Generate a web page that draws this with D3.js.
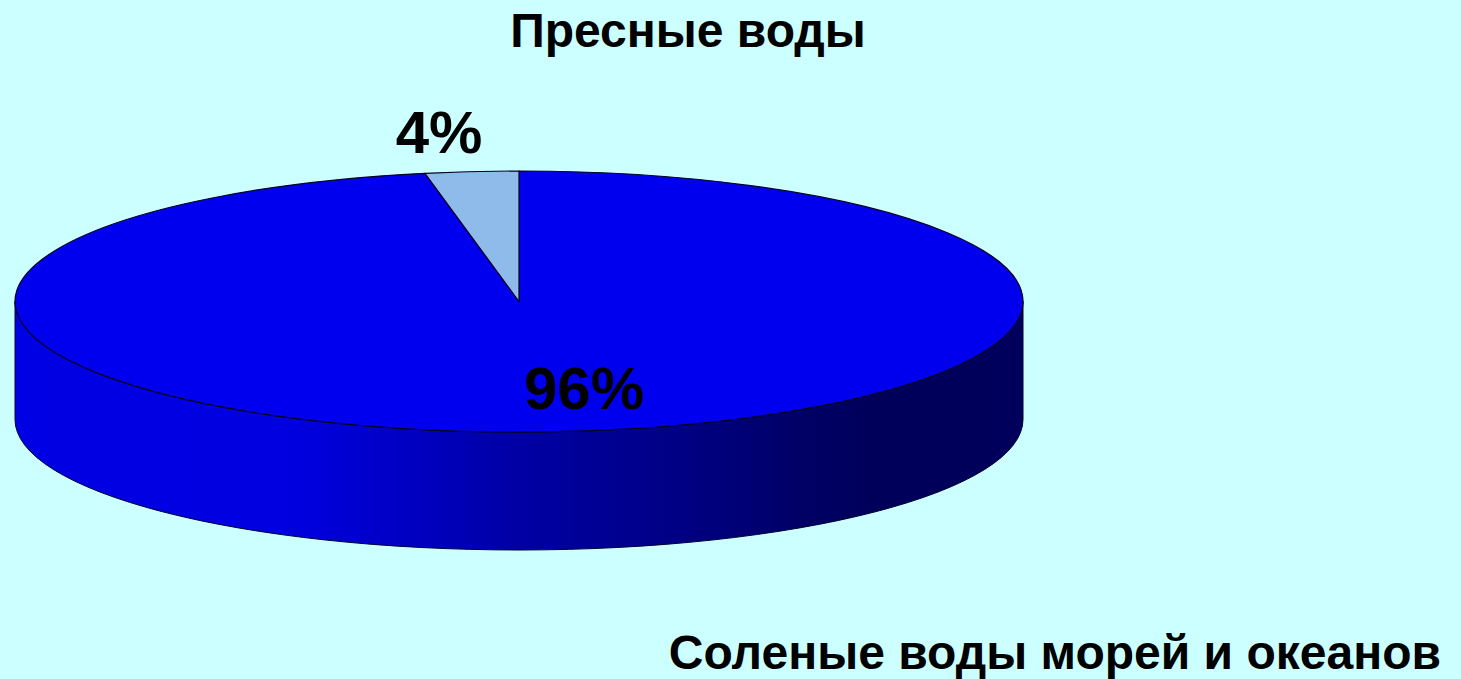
<!DOCTYPE html>
<html>
<head>
<meta charset="utf-8">
<script src="https://cdn.jsdelivr.net/npm/d3@7"></script>
<style>
  html, body { margin: 0; padding: 0; background: #ccffff; overflow: hidden; }
  text { font-family: "Liberation Sans", Arial, sans-serif; font-weight: bold; fill: #000; }
</style>
</head>
<body>
<div id="chart"></div>
<script>
// Chart data
const categories = ['Соленые воды морей и океанов', 'Пресные воды'];
const values = [96, 4];
const sliceColors = ['#0000ee', '#8fbbeb'];

const width = 1461;
const height = 679;

// Pie disc geometry
const cx = 519;
const cy = 301.5;
const rx = 504;
const ry = 130.5;
const depth = 118;
// the back of the disc is foreshortened by the 3D view
const foreshorten = 0.74;

const svg = d3.select('#chart')
    .append('svg')
    .attr('width', width)
    .attr('height', height);

// Shading of the side wall, left to right
const sideX = d3.scaleLinear().domain([0, 1]).range([cx - rx, cx + rx]);
const sideStops = [
    [0, '#0000e4'],
    [0.27, '#0000e0'],
    [0.40, '#0000c0'],
    [0.5, '#0000a4'],
    [0.64, '#000088'],
    [0.78, '#000066'],
    [0.85, '#00005a'],
    [1, '#00005c']
];

const grad = svg.append('defs')
    .append('linearGradient')
    .attr('id', 'side')
    .attr('gradientUnits', 'userSpaceOnUse')
    .attr('x1', sideX(0))
    .attr('x2', sideX(1))
    .attr('y1', 0)
    .attr('y2', 0);

grad.selectAll('stop')
    .data(sideStops)
    .join('stop')
    .attr('offset', d => d[0])
    .attr('stop-color', d => d[1]);

// Side wall
svg.append('path')
    .attr('d', `M${cx - rx},${cy}V${cy + depth}A${rx},${ry} 0 0 0 ${cx + rx},${cy + depth}V${cy}A${rx},${ry} 0 0 1 ${cx - rx},${cy}Z`)
    .attr('fill', 'url(#side)')
    .attr('stroke', '#000033')
    .attr('stroke-width', 1);

// Top of the disc
const warp = a => {
    const w = Math.atan2(Math.sin(a) * foreshorten, Math.cos(a));
    return w < 0 ? w + 2 * Math.PI : (a >= 2 * Math.PI - 1e-9 ? 2 * Math.PI : w);
};

const pie = d3.pie().sort(null);
const arc = d3.arc().innerRadius(0).outerRadius(rx);

svg.append('g')
    .attr('transform', `translate(${cx},${cy}) scale(1,${ry / rx})`)
    .selectAll('path')
    .data(pie(values))
    .join('path')
    .attr('d', d => arc({ startAngle: warp(d.startAngle), endAngle: warp(d.endAngle) }))
    .attr('fill', (d, i) => sliceColors[i])
    .attr('stroke', '#000022')
    .attr('stroke-width', 1.2)
    .attr('vector-effect', 'non-scaling-stroke')
    .attr('stroke-linejoin', 'round');

// Percent labels
const pctLabels = [
    { x: 584, y: 409, size: 60 },
    { x: 439, y: 153, size: 60 }
];

svg.selectAll('text.pct')
    .data(values)
    .join('text')
    .attr('class', 'pct')
    .attr('x', (d, i) => pctLabels[i].x)
    .attr('y', (d, i) => pctLabels[i].y)
    .attr('text-anchor', 'middle')
    .style('font-size', (d, i) => pctLabels[i].size + 'px')
    .text(d => d + '%');

// Category labels
const catLabels = [
    { x: 1441, y: 669, anchor: 'end' },
    { x: 688, y: 47, anchor: 'middle' }
];

svg.selectAll('text.cat')
    .data(categories)
    .join('text')
    .attr('class', 'cat')
    .attr('x', (d, i) => catLabels[i].x)
    .attr('y', (d, i) => catLabels[i].y)
    .attr('text-anchor', (d, i) => catLabels[i].anchor)
    .style('font-size', '48px')
    .text(d => d);
</script>
</body>
</html>
